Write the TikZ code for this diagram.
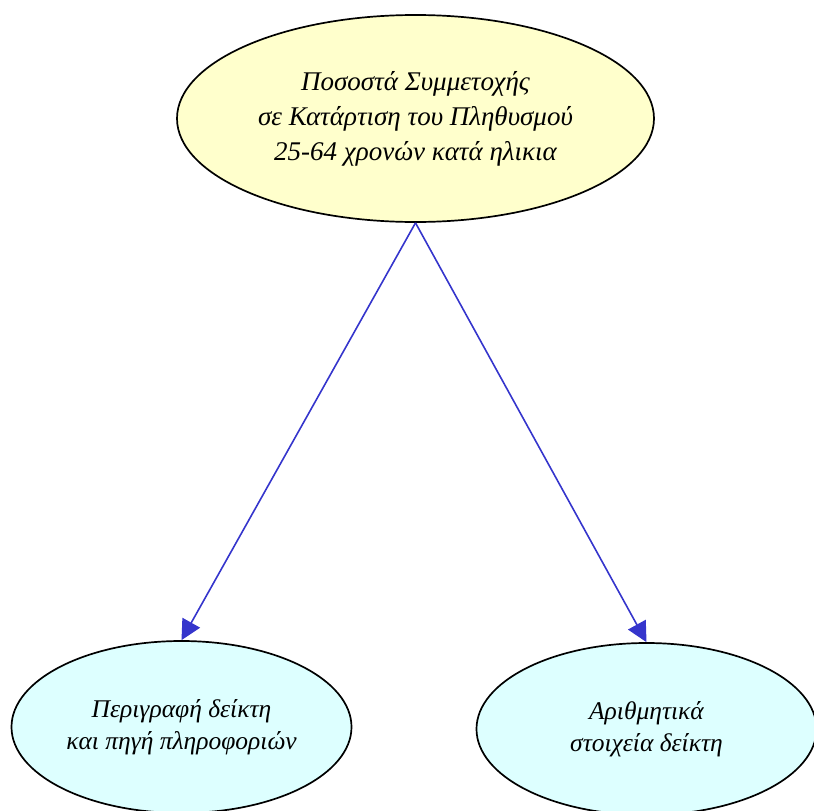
\documentclass[tikz,border=0pt]{standalone}
\usepackage{fontspec}
\setmainfont{Liberation Serif}
\usepackage{tikz}
\usetikzlibrary{shapes.geometric, arrows.meta, positioning}
\definecolor{topfill}{HTML}{FFFFCC}
\definecolor{leaffill}{HTML}{DDFFFF}
\definecolor{edgeblue}{HTML}{3535CC}
\tikzset{
    topic/.style={ellipse, minimum width=477pt, minimum height=207pt, inner sep=0pt, align=center, draw=black, line width=1.7pt, fill=topfill, font=\fontsize{27}{35}\selectfont\itshape},
    leaf/.style={ellipse, minimum width=340pt, minimum height=172pt, inner sep=0pt, align=center, draw=black, line width=1.7pt, fill=leaffill, font=\fontsize{25.5}{32}\selectfont\itshape},
    arrow/.style={line width=1.6pt, draw=edgeblue, -{Triangle[length=20pt, width=20pt, fill=edgeblue]}}
}
\begin{document}
\begin{tikzpicture}[x=1pt, y=-1pt]
    \useasboundingbox (0,0) rectangle (814,811);
    \node (main) [topic] at (415.5,118.5) {Ποσοστά Συμμετοχής\\σε Κατάρτιση του Πληθυσμού\\25-64 χρονών κατά ηλικια};
    \node (descr) [leaf] at (181.5,727) {Περιγραφή δείκτη\\και πηγή πληροφοριών};
    \node (stats) [leaf] at (646.5,729) {Αριθμητικά\\στοιχεία δείκτη};

    \draw [arrow] (main.south) -- (descr.north);
    \draw [arrow] (main.south) -- (stats.north);
\end{tikzpicture}
\end{document}
